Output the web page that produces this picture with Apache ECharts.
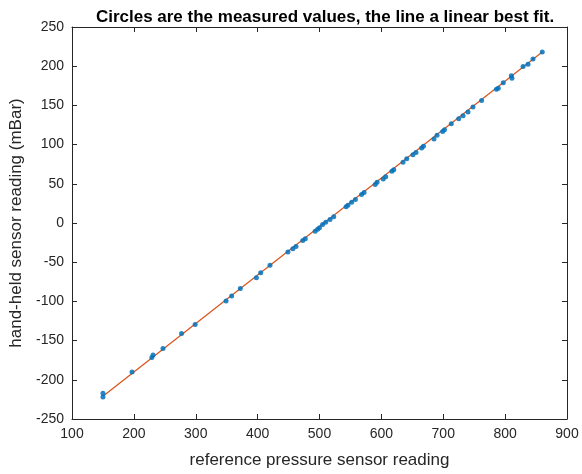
<!DOCTYPE html>
<html>
<head>
<meta charset="utf-8">
<script src="https://cdn.jsdelivr.net/npm/echarts@6/dist/echarts.min.js"></script>
<style>
  html, body { margin: 0; padding: 0; background: #fff; }
  #chart { width: 582px; height: 474px; }
</style>
</head>
<body>
<div id="chart"></div>
<script>
// Reference sensor readings and the matching hand-held readings (mBar)
const refReading = [150, 150, 197, 229, 231, 247, 277, 299, 349, 358, 372, 398, 405, 420,
  449, 457, 462, 473, 477, 493, 497, 500, 505, 510, 517, 523, 543, 546, 552, 558, 568, 572,
  590, 593, 603, 607, 617, 620, 635, 641, 651, 656, 665, 668, 685, 690, 699, 702, 713, 725,
  732, 740, 748, 762, 786, 789, 797, 810, 811, 829, 837, 845, 860];
const handHeld = [-217, -222, -190, -171.5, -168.5, -160, -141, -129.5, -99.5, -93, -83.7, -69.7, -63.4, -54,
  -37, -33, -30, -22.3, -20, -10.4, -8, -6, -2, 1, 4.5, 8, 20.6, 22.5, 26.5, 30, 36.3, 39,
  49, 52, 56.2, 59, 66, 68, 77.4, 82, 87, 90, 95.7, 98, 107, 112, 116.8, 119, 126.6, 133,
  136.8, 141.5, 147.8, 156.2, 170.7, 172, 179, 187.7, 184.7, 199.5, 202.5, 209.3, 218];

// Linear best fit, drawn between its end points
const fitX = [150, 860];
const fitY = [-221, 218];

const xTicks = { min: 100, max: 900, interval: 100 };
const yTicks = { min: -250, max: 250, interval: 50 };

const font = '"Liberation Sans", Arial, sans-serif';
const axisColor = '#262626';

function makeAxis(base, extra) {
  return Object.assign({
    type: 'value',
    min: base.min, max: base.max, interval: base.interval,
    splitLine: { show: false },
    axisLine: { show: true, onZero: false, lineStyle: { color: axisColor, width: 1 } },
    axisTick: { show: true, inside: true, length: 5, lineStyle: { color: axisColor } },
    axisLabel: { show: true, color: axisColor, fontFamily: font, fontSize: 14 }
  }, extra);
}

const chart = echarts.init(document.getElementById('chart'), null, { renderer: 'canvas' });
chart.setOption({
  animation: false,
  backgroundColor: '#ffffff',
  title: {
    text: 'Circles are the measured values, the line a linear best fit.',
    left: 320, top: 4, textAlign: 'center',
    textStyle: { fontFamily: font, fontSize: 17, fontWeight: 'bold', color: '#000' }
  },
  grid: { left: 72, right: 15, top: 27, bottom: 54 },
  xAxis: [
    makeAxis(xTicks, {
      position: 'bottom',
      name: 'reference pressure sensor reading',
      nameLocation: 'middle', nameGap: 33,
      nameTextStyle: { fontFamily: font, fontSize: 17, color: axisColor },
      axisLabel: { color: axisColor, fontFamily: font, fontSize: 14, margin: 8 }
    }),
    makeAxis(xTicks, { position: 'top', axisLabel: { show: false } })
  ],
  yAxis: [
    makeAxis(yTicks, {
      position: 'left',
      name: 'hand-held sensor reading (mBar)',
      nameLocation: 'middle', nameGap: 43,
      nameTextStyle: { fontFamily: font, fontSize: 17, color: axisColor },
      axisLabel: { color: axisColor, fontFamily: font, fontSize: 14, margin: 8 }
    }),
    makeAxis(yTicks, { position: 'right', axisLabel: { show: false } })
  ],
  series: [
    {
      type: 'line',
      data: fitX.map((x, i) => [x, fitY[i]]),
      showSymbol: false,
      lineStyle: { color: '#D95319', width: 1.2 },
      z: 2
    },
    {
      type: 'scatter',
      data: refReading.map((x, i) => [x, handHeld[i]]),
      symbol: 'circle',
      symbolSize: 5,
      itemStyle: { color: '#0072BD', opacity: 0.85 },
      z: 3
    }
  ]
});
</script>
</body>
</html>
